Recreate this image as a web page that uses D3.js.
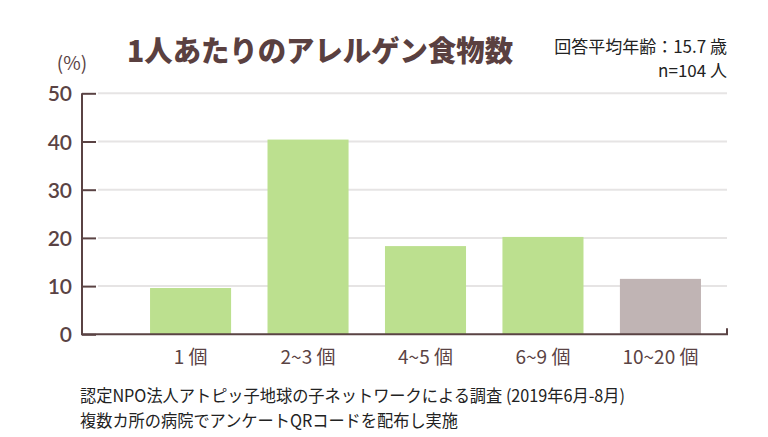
<!DOCTYPE html>
<html>
<head>
<meta charset="utf-8">
<script src="https://cdn.jsdelivr.net/npm/d3@7"></script>
<style>
  body { margin: 0; background: #fff; }
  text { font-family: "Noto Sans CJK JP", "Noto Sans", sans-serif; }
</style>
</head>
<body>
<div id="chart"></div>
<script>
// data
const categories = ["1個", "2~3個", "4~5個", "6~9個", "10~20個"];
const labels = ["1 個", "2~3 個", "4~5 個", "6~9 個", "10~20 個"];
const values = [9.6, 40.4, 18.3, 20.2, 11.5];
const barColors = ["#bce08f", "#bce08f", "#bce08f", "#bce08f", "#c0b4b4"];
const yTicks = [0, 10, 20, 30, 40, 50];

const width = 768, height = 437;
const brown = "#5a4344";

const svg = d3.select("#chart")
    .append("svg")
    .attr("width", width)
    .attr("height", height);

// scales
const xScale = d3.scaleBand()
    .domain(categories)
    .range([98, 753])
    .paddingInner(0.31)
    .paddingOuter(0.443);

const yScale = d3.scaleLinear()
    .domain([0, 50])
    .range([334.3, 93.3]);

// gridlines
svg.selectAll(".grid")
    .data(yTicks.filter(d => d > 0))
    .enter().append("line")
    .attr("x1", 98)
    .attr("x2", 727)
    .attr("y1", d => yScale(d))
    .attr("y2", d => yScale(d))
    .attr("stroke", "#e6e4e4")
    .attr("stroke-width", 2);

// bars
svg.selectAll(".bar")
    .data(values)
    .enter().append("rect")
    .attr("x", (d, i) => xScale(categories[i]))
    .attr("y", d => yScale(d))
    .attr("width", xScale.bandwidth())
    .attr("height", d => yScale(0) - yScale(d))
    .attr("fill", (d, i) => barColors[i]);

// y axis
const yAxis = svg.append("g")
    .attr("transform", "translate(82,0)")
    .call(d3.axisLeft(yScale).tickValues(yTicks).tickSize(-14).tickPadding(10));
yAxis.select(".domain").remove();
yAxis.selectAll(".tick line").attr("stroke", brown).attr("stroke-width", 2);
yAxis.selectAll(".tick text")
    .attr("fill", brown)
    .attr("dy", "0.36em")
    .style("font-family", "Lato, sans-serif")
    .style("font-size", "21px")
    .style("font-weight", "600");

// axis lines
svg.append("path")
    .attr("d", `M82,${yScale(50)}V${yScale(0)}H727V${yScale(0) - 6}`)
    .attr("fill", "none")
    .attr("stroke", brown)
    .attr("stroke-width", 2);

// x labels
const xAxis = svg.append("g")
    .attr("transform", `translate(0,${yScale(0)})`)
    .call(d3.axisBottom(xScale).tickSize(0).tickPadding(20).tickFormat((d, i) => labels[i]));
xAxis.select(".domain").remove();
xAxis.selectAll(".tick text")
    .attr("fill", brown)
    .attr("dy", "0.5em")
    .style("font-size", "19px");

// (%)
svg.append("text")
    .attr("x", 72)
    .attr("y", 70)
    .attr("text-anchor", "middle")
    .attr("fill", brown)
    .style("font-size", "19px")
    .text("(%)");

// title
svg.append("text")
    .attr("x", 320)
    .attr("y", 62)
    .attr("text-anchor", "middle")
    .attr("fill", "#5a4040")
    .style("font-size", "29px")
    .style("font-weight", "900")
    .attr("textLength", 386)
    .attr("lengthAdjust", "spacingAndGlyphs")
    .text("1人あたりのアレルゲン食物数");

svg.append("text")
    .attr("x", 727)
    .attr("y", 53)
    .attr("text-anchor", "end")
    .attr("fill", "#222")
    .style("font-size", "17px")
    .text("回答平均年齢：15.7 歳");

svg.append("text")
    .attr("x", 727)
    .attr("y", 77)
    .attr("text-anchor", "end")
    .attr("fill", "#222")
    .style("font-size", "17px")
    .text("n=104 人");

// source notes
svg.append("text")
    .attr("x", 80)
    .attr("y", 402)
    .attr("fill", "#222")
    .style("font-size", "17px")
    .attr("textLength", 545)
    .attr("lengthAdjust", "spacingAndGlyphs")
    .text("認定NPO法人アトピッ子地球の子ネットワークによる調査 (2019年6月-8月)");

svg.append("text")
    .attr("x", 80)
    .attr("y", 427)
    .attr("fill", "#222")
    .style("font-size", "17px")
    .attr("textLength", 378)
    .attr("lengthAdjust", "spacingAndGlyphs")
    .text("複数カ所の病院でアンケートQRコードを配布し実施");
</script>
</body>
</html>
